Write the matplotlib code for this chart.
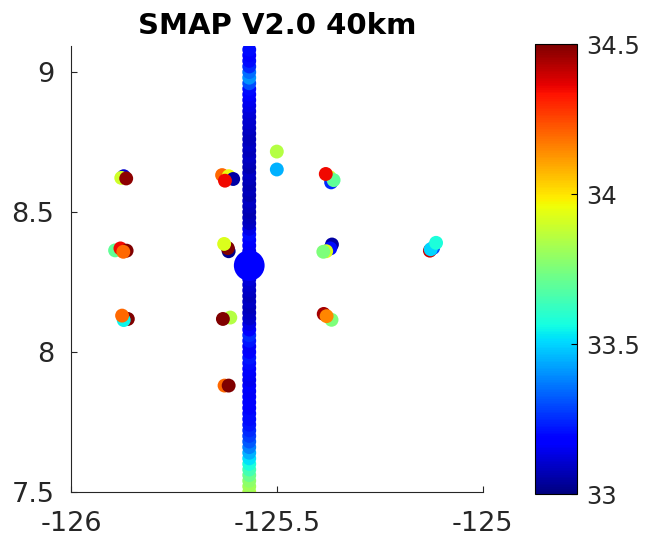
import numpy as np
import matplotlib.pyplot as plt

plt.rcParams['font.family'] = ['DejaVu Sans']
plt.rcParams['figure.dpi'] = 100

# in situ points around the ship track (lon, lat, salinity)
pt_lon = [-125.872, -125.878, -125.866,
          -125.633, -125.617, -125.606, -125.626,
          -125.372, -125.368, -125.362, -125.381,
          -125.893, -125.880, -125.865, -125.873,
          -125.617, -125.619, -125.628,
          -125.366, -125.370, -125.380, -125.387,
          -125.128, -125.120, -125.126, -125.113,
          -125.862, -125.872, -125.876,
          -125.613, -125.631,
          -125.386, -125.367, -125.379,
          -125.627, -125.617,
          -125.500, -125.500]
pt_lat = [8.628, 8.622, 8.620,
          8.632, 8.628, 8.618, 8.612,
          8.625, 8.606, 8.614, 8.636,
          8.363, 8.370, 8.362, 8.358,
          8.360, 8.371, 8.386,
          8.384, 8.370, 8.360, 8.358,
          8.362, 8.372, 8.367, 8.390,
          8.118, 8.114, 8.130,
          8.123, 8.118,
          8.136, 8.115, 8.128,
          7.880, 7.880,
          8.716, 8.652]
pt_sss = [33.10, 33.90, 34.48,
          34.20, 33.95, 33.05, 34.35,
          33.90, 33.25, 33.70, 34.35,
          33.70, 34.35, 34.50, 34.20,
          33.02, 34.50, 33.92,
          33.05, 33.20, 33.92, 33.75,
          34.40, 33.30, 33.50, 33.58,
          34.50, 33.55, 34.20,
          33.85, 34.50,
          34.45, 33.75, 34.15,
          34.20, 34.50,
          33.85, 33.45]

# SMAP 40 km samples along the track
trk_lon = -125.567
trk_lat = [7.50, 7.52, 7.54, 7.56, 7.58, 7.60, 7.62, 7.64, 7.66, 7.68,
           7.70, 7.72, 7.74, 7.76, 7.78, 7.80, 7.82, 7.84, 7.86, 7.88,
           7.90, 7.92, 7.94, 7.96, 7.98, 8.00, 8.02, 8.04, 8.06, 8.08,
           8.10, 8.12, 8.14, 8.16, 8.18, 8.20, 8.22, 8.24, 8.26, 8.28,
           8.30, 8.32, 8.34, 8.36, 8.38, 8.40, 8.42, 8.44, 8.46, 8.48,
           8.50, 8.52, 8.54, 8.56, 8.58, 8.60, 8.62, 8.64, 8.66, 8.68,
           8.70, 8.72, 8.74, 8.76, 8.78, 8.80, 8.82, 8.84, 8.86, 8.88,
           8.90, 8.92, 8.94, 8.96, 8.98, 9.00, 9.02, 9.04, 9.06, 9.08]
trk_sss = [33.85, 33.82, 33.78, 33.72, 33.65, 33.58, 33.52, 33.45, 33.38, 33.32,
           33.28, 33.25, 33.22, 33.20, 33.20, 33.18, 33.19, 33.17, 33.16, 33.18,
           33.15, 33.16, 33.18, 33.20, 33.22, 33.18, 33.16, 33.22, 33.25, 33.18,
           33.14, 33.10, 33.09, 33.08, 33.09, 33.08, 33.09, 33.10, 33.12, 33.14,
           33.15, 33.14, 33.12, 33.14, 33.16, 33.18, 33.20, 33.14, 33.09, 33.08,
           33.07, 33.08, 33.09, 33.07, 33.08, 33.07, 33.08, 33.09, 33.07, 33.08,
           33.09, 33.08, 33.09, 33.08, 33.08, 33.09, 33.10, 33.11, 33.12, 33.14,
           33.15, 33.17, 33.20, 33.30, 33.40, 33.35, 33.25, 33.20, 33.18, 33.20]

# ship position
ship_lon, ship_lat, ship_sss = -125.567, 8.309, 33.18

fig = plt.figure(figsize=(6.46, 5.40))
ax = fig.add_axes([0.110, 0.089, 0.637, 0.825])
cax = fig.add_axes([0.828, 0.085, 0.065, 0.833])

kw = dict(cmap='jet', vmin=33, vmax=34.5, edgecolors='none')
ax.scatter(pt_lon, pt_lat, c=pt_sss, s=100, **kw)
sc = ax.scatter(np.full(len(trk_lat), trk_lon), trk_lat, c=trk_sss, s=100, **kw)
ax.scatter([ship_lon], [ship_lat], c=[ship_sss], s=490, **kw)

ax.set_xlim(-126, -125)
ax.set_ylim(7.5, 9.0916)
ax.set_xticks([-126, -125.5, -125])
ax.set_xticklabels(['-126', '-125.5', '-125'])
ax.set_yticks([7.5, 8, 8.5, 9])
ax.set_yticklabels(['7.5', '8', '8.5', '9'])
for s in ['top', 'right']:
    ax.spines[s].set_visible(False)
for s in ['left', 'bottom']:
    ax.spines[s].set_color('#262626')
    ax.spines[s].set_linewidth(0.8)
ax.tick_params(direction='in', length=4, width=0.8, labelsize=19.5,
               labelcolor='#262626', color='#262626')
ax.tick_params(axis='x', pad=14)
ax.tick_params(axis='y', pad=12)
ax.set_title('SMAP V2.0 40km', fontsize=21, fontweight='bold', pad=9)

cb = fig.colorbar(sc, cax=cax, ticks=[33, 33.5, 34, 34.5])
cb.ax.set_yticklabels(['33', '33.5', '34', '34.5'])
cb.ax.tick_params(direction='in', length=4, width=0.8, labelsize=17.5,
                  labelcolor='#262626', pad=7)
cb.outline.set_linewidth(0.8)

fig.savefig('out.png')
